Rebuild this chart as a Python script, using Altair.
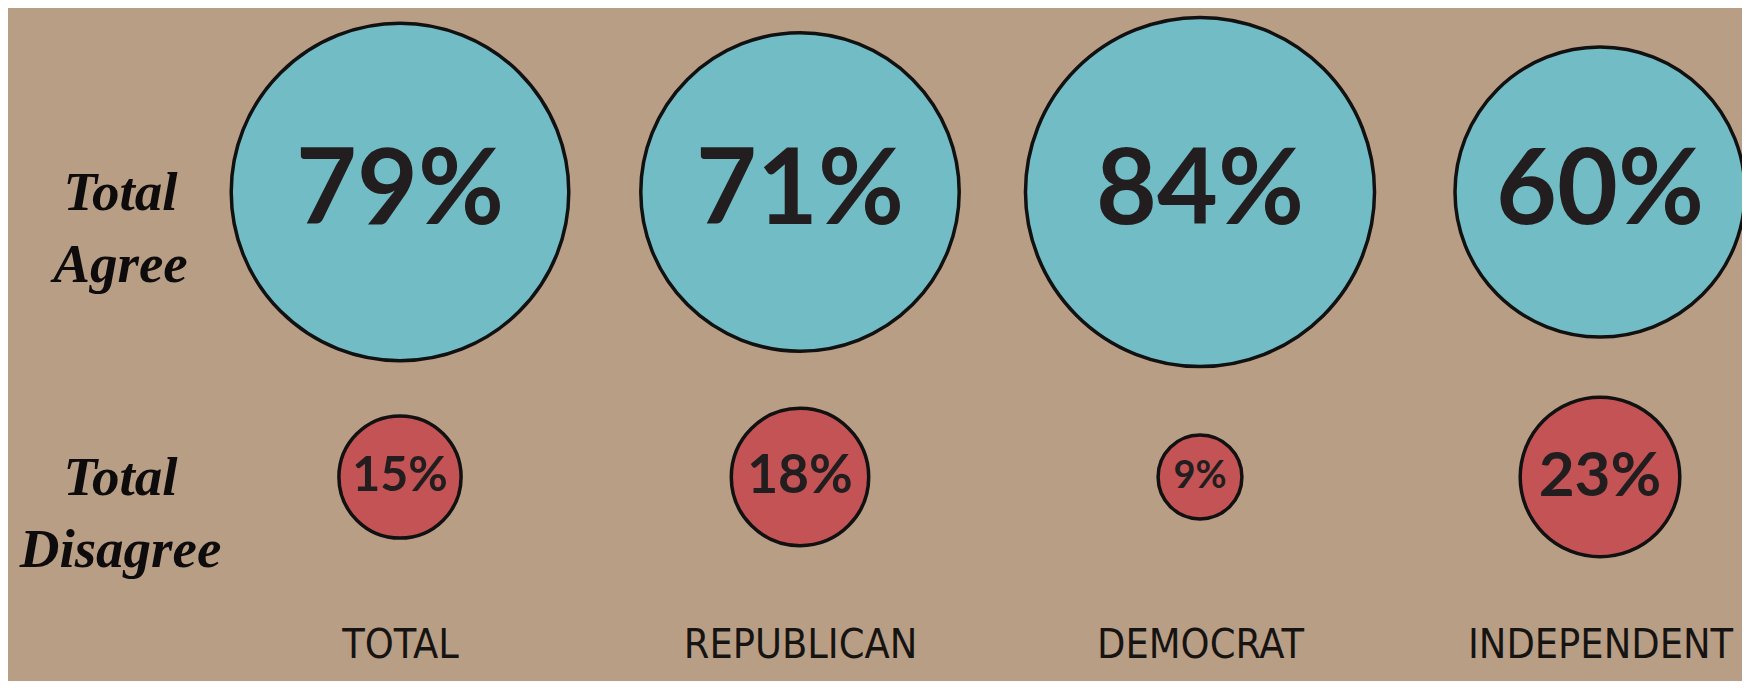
import altair as alt
import pandas as pd

categories = ["TOTAL", "REPUBLICAN", "DEMOCRAT", "INDEPENDENT"]
agree_values = [79, 71, 84, 60]
disagree_values = [15, 18, 9, 23]
row_labels = ["Total Agree", "Total Disagree"]

agree_df = pd.DataFrame({
    "group": categories,
    "value": agree_values,
    "row": row_labels[0],
    "label": [f"{v}%" for v in agree_values],
})
disagree_df = pd.DataFrame({
    "group": categories,
    "value": disagree_values,
    "row": row_labels[1],
    "label": [f"{v}%" for v in disagree_values],
})

BG = "#b99e86"
BLUE = "#72bcc6"
RED = "#c35354"
INK = "#221e1f"

x_axis = alt.Axis(
    title=None, orient="bottom", labelAngle=0, labelPadding=37,
    labelBaseline="middle", labelFont="DejaVu Sans Condensed, Liberation Sans Narrow, DejaVu Sans",
    labelFontSize=41, labelColor="#161412", labelLimit=0, labelOverlap=False,
)
y_axis = alt.Axis(
    title=None, orient="left", labelPadding=88, labelAlign="center",
    labelBaseline="middle", labelFont="Liberation Serif", labelFontStyle="italic",
    labelFontWeight="bold", labelFontSize=55, labelLineHeight=72,
    labelColor="#0d0b0b", labelLimit=0, labelExpr="split(datum.label, ' ')",
)

x_enc = alt.X("group:N", sort=categories,
              scale=alt.Scale(type="point", domain=categories, range=[192, 1392], padding=0),
              axis=x_axis)
y_enc = alt.Y("row:N", sort=row_labels,
              scale=alt.Scale(type="point", domain=row_labels, range=[184, 469], padding=0),
              axis=y_axis)

agree_circles = alt.Chart(agree_df).mark_circle(
    color=BLUE, opacity=1, stroke="#111111", strokeWidth=3.5
).encode(
    x=x_enc, y=y_enc,
    size=alt.Size("value:Q", legend=None,
                  scale=alt.Scale(domain=[60, 84], range=[84101, 121829], zero=False)),
)

agree_text = alt.Chart(agree_df).mark_text(
    font="Lato", fontWeight="bold", fontSize=105, color=INK, baseline="middle", align="center"
).encode(x=x_enc, y=y_enc, text="label:N")

disagree_circles = alt.Chart(disagree_df).mark_circle(
    color=RED, opacity=1, stroke="#111111", strokeWidth=3.5
).encode(
    x=x_enc, y=y_enc,
    size=alt.Size("value:Q", legend=None,
                  scale=alt.Scale(domain=[9, 23], range=[7027, 25470], zero=False)),
)

disagree_text = alt.Chart(disagree_df).mark_text(
    font="Lato", fontWeight="bold", color=INK, baseline="middle", align="center"
).encode(
    x=x_enc, y=y_enc, text="label:N",
    size=alt.Size("value:Q", legend=None,
                  scale=alt.Scale(domain=[9, 23], range=[38, 62], zero=False)),
)

chart = alt.layer(
    agree_circles, agree_text, disagree_circles, disagree_text
).resolve_scale(size="independent").properties(
    width=1534, height=600,
    background=BG,
    padding={"left": 200, "top": 0, "right": 0, "bottom": 73},
    autosize=alt.AutoSizeParams(type="none"),
).configure_view(stroke=None).configure_axis(
    grid=False, domain=False, ticks=False, tickSize=0
)

chart.save("out.html", embed_options={"renderer": "svg", "actions": False})
